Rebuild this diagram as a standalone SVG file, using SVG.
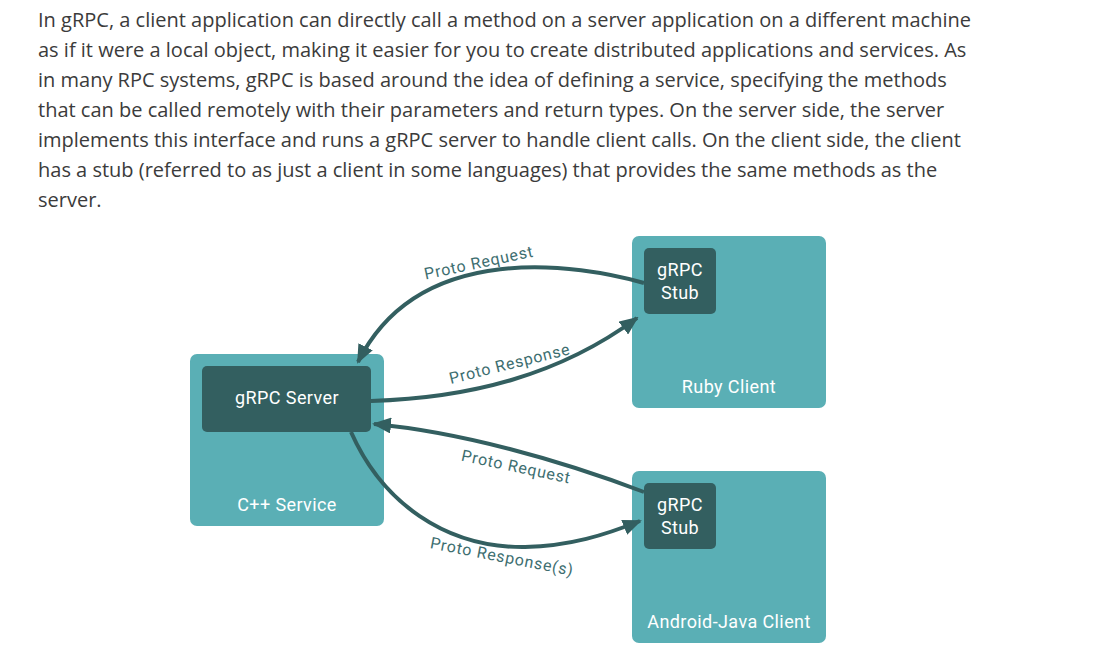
<svg xmlns="http://www.w3.org/2000/svg" width="1108" height="661" viewBox="0 0 1108 661">
<defs>
<style>
.para{font-family:"Open Sans",sans-serif;font-size:20px;fill:#3b3b3b}
.outer{fill:#5aafb5}
.inner{fill:#335f60}
.lbl{font-family:Roboto,sans-serif;font-size:18px;fill:#ffffff;text-anchor:middle;letter-spacing:0.4px}
.edge{fill:none;stroke:#335f60;stroke-width:4}
.elbl{font-family:Roboto,sans-serif;font-size:16px;fill:#3d6e70;text-anchor:middle;letter-spacing:0.8px}
</style>
<marker id="ah" viewBox="0 0 19 16" refX="17" refY="8" markerWidth="19" markerHeight="16" markerUnits="userSpaceOnUse" orient="auto">
<path d="M0,0 L19,8 L0,16 z" fill="#335f60"/>
</marker>
</defs>
<rect width="1108" height="661" fill="#ffffff"/>
<g id="paragraph">
<text class="para" x="38" y="27">In gRPC, a client application can directly call a method on a server application on a different machine</text>
<text class="para" x="38" y="57">as if it were a local object, making it easier for you to create distributed applications and services. As</text>
<text class="para" x="38" y="87">in many RPC systems, gRPC is based around the idea of defining a service, specifying the methods</text>
<text class="para" x="38" y="117">that can be called remotely with their parameters and return types. On the server side, the server</text>
<text class="para" x="38" y="147">implements this interface and runs a gRPC server to handle client calls. On the client side, the client</text>
<text class="para" x="38" y="177">has a stub (referred to as just a client in some languages) that provides the same methods as the</text>
<text class="para" x="38" y="207">server.</text>
</g>
<g id="cpp-service">
<rect class="outer" x="190" y="354" width="194" height="172" rx="7"/>
<text class="lbl" x="287" y="511">C++ Service</text>
</g>
<g id="grpc-server">
<rect class="inner" x="202" y="366" width="169" height="66" rx="5"/>
<text class="lbl" x="287" y="404">gRPC Server</text>
</g>
<g id="ruby-client">
<rect class="outer" x="632" y="236" width="194" height="172" rx="7"/>
<text class="lbl" x="729" y="393">Ruby Client</text>
</g>
<g id="ruby-stub">
<rect class="inner" x="644" y="248" width="72" height="66" rx="5"/>
<text class="lbl" x="680" y="276">gRPC</text>
<text class="lbl" x="680" y="299">Stub</text>
</g>
<g id="android-client">
<rect class="outer" x="632" y="471" width="194" height="172" rx="7"/>
<text class="lbl" x="729" y="628">Android-Java Client</text>
</g>
<g id="android-stub">
<rect class="inner" x="644" y="483" width="72" height="66" rx="5"/>
<text class="lbl" x="680" y="511">gRPC</text>
<text class="lbl" x="680" y="534">Stub</text>
</g>
<g id="connectors">
<path class="edge" d="M644,283 C580,265 420,238 358,362" marker-end="url(#ah)"/>
<path class="edge" d="M371,401 C470,398 560,375 637,318" marker-end="url(#ah)"/>
<path class="edge" d="M644,492 C560,460 460,432 374,424" marker-end="url(#ah)"/>
<path class="edge" d="M351,432 C382,502 445,548 525,547 C570,546 605,535 640,521" marker-end="url(#ah)"/>
<text class="elbl" transform="translate(480,268) rotate(-12)">Proto Request</text>
<text class="elbl" transform="translate(511,369) rotate(-14)">Proto Response</text>
<text class="elbl" transform="translate(515,472) rotate(12)">Proto Request</text>
<text class="elbl" transform="translate(501,562) rotate(11)">Proto Response(s)</text>
</g>
</svg>
